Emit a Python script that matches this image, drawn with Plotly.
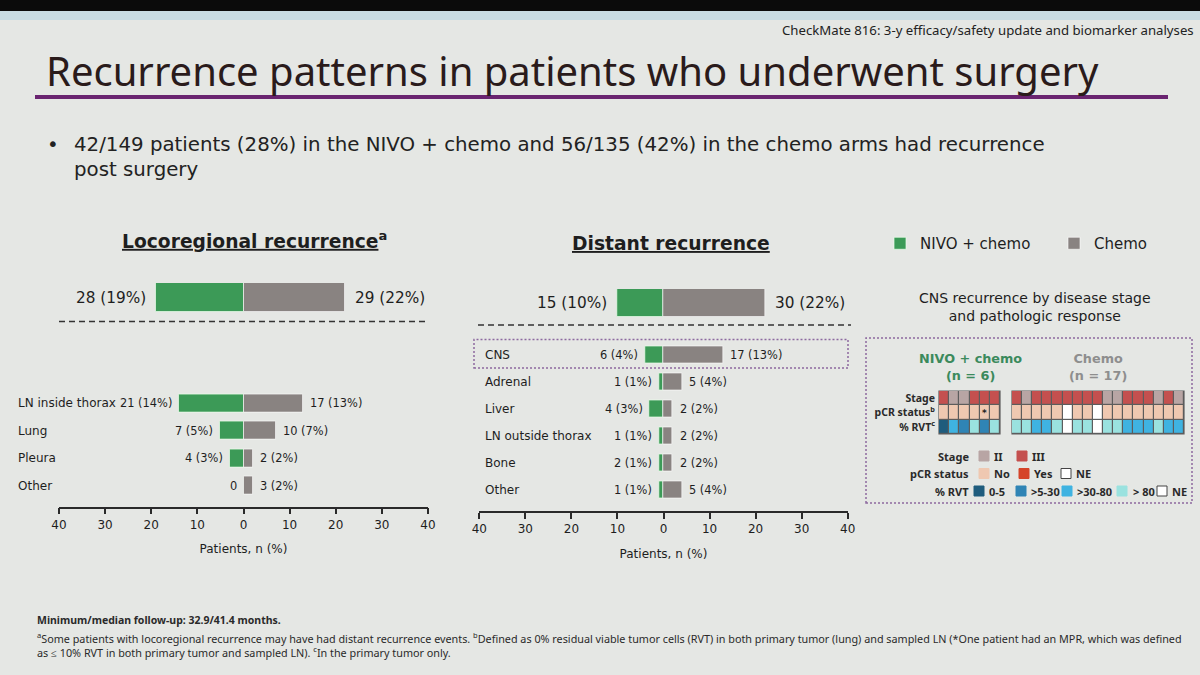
import plotly.graph_objects as go

W, H = 1200, 675


def fx(p):
    return p / W


def fy(p):
    return 1 - p / H


BG = "#e5e7e4"
GREEN = "#3c9a57"
GREY = "#898381"
TXT = "#1e1e1e"
PURPLE = "#8d6a9f"
FONT = "DejaVu Sans"
FONT2 = "Noto Sans"

# ---------------- data ----------------
loco_total_cat = ["Locoregional"]
loco_total_nivo_n = [28]
loco_total_nivo_pct = [19]
loco_total_chemo_n = [29]
loco_total_chemo_pct = [22]

loco_sites = ["LN inside thorax", "Lung", "Pleura", "Other"]
loco_nivo_n = [21, 7, 4, 0]
loco_nivo_pct = [14, 5, 3, 0]
loco_chemo_n = [17, 10, 2, 3]
loco_chemo_pct = [13, 7, 2, 2]

dist_total_cat = ["Distant"]
dist_total_nivo_n = [15]
dist_total_nivo_pct = [10]
dist_total_chemo_n = [30]
dist_total_chemo_pct = [22]

dist_sites = ["CNS", "Adrenal", "Liver", "LN outside thorax", "Bone", "Other"]
dist_nivo_n = [6, 1, 4, 1, 2, 1]
dist_nivo_pct = [4, 1, 3, 1, 1, 1]
dist_chemo_n = [17, 5, 2, 2, 2, 5]
dist_chemo_pct = [13, 4, 2, 2, 2, 4]

axis_ticks = [-40, -30, -20, -10, 0, 10, 20, 30, 40]
axis_ticktext = ["40", "30", "20", "10", "0", "10", "20", "30", "40"]

# CNS recurrence grid
grid_rows = ["Stage", "pCR", "RVT"]
grid_row_labels = ["<b>Stage</b>", "<b>pCR status<sup>b</sup></b>", "<b>% RVT<sup>c</sup></b>"]
nivo_stage = ["III", "II", "II", "III", "III", "III"]
nivo_pcr = ["No", "No", "No", "No", "No", "No"]
nivo_rvt = ["0-5", ">30-80", ">5-30", ">80", ">5-30", ">80"]
nivo_mpr_col = [4]
chemo_stage = ["III", "II", "III", "III", "III", "III", "III", "III", "III",
               "II", "II", "III", "III", "III", "II", "III", "II"]
chemo_pcr = ["No", "No", "No", "No", "No", "NE", "No", "No", "NE",
             "No", "No", "No", "No", "No", "No", "No", "No"]
chemo_rvt = [">80", ">80", ">30-80", ">30-80", ">80", "NE", ">80", ">80", "NE",
             ">80", ">80", ">30-80", ">30-80", ">30-80", ">80", ">30-80", ">30-80"]

stage_colors = {"II": "#b8a5a4", "III": "#c4504f"}
pcr_colors = {"No": "#efc8b1", "Yes": "#d5452a", "NE": "#ffffff"}
rvt_colors = {"0-5": "#1f5c7d", ">5-30": "#2f84b5", ">30-80": "#3fb3e1", ">80": "#9ae2df", "NE": "#ffffff"}

# ---------------- figure ----------------
fig = go.Figure()


def add_bars(xa, ya, cats, nivo_pct, chemo_pct, show, width):
    fig.add_trace(go.Bar(
        y=cats, x=[-v for v in nivo_pct], orientation="h", width=width,
        marker=dict(color=GREEN, line=dict(color="rgba(235,255,235,0.7)", width=1)),
        name="NIVO + chemo", legendgroup="nivo", showlegend=show,
        xaxis=xa, yaxis=ya, hoverinfo="skip"))
    fig.add_trace(go.Bar(
        y=cats, x=list(chemo_pct), orientation="h", width=width,
        marker=dict(color=GREY, line=dict(color="rgba(255,255,255,0.6)", width=1)),
        name="Chemo", legendgroup="chemo", showlegend=show,
        xaxis=xa, yaxis=ya, hoverinfo="skip"))


add_bars("x", "y", loco_total_cat, loco_total_nivo_pct, loco_total_chemo_pct, True, 1.0)
add_bars("x2", "y2", loco_sites, loco_nivo_pct, loco_chemo_pct, False, 0.64)
add_bars("x3", "y3", dist_total_cat, dist_total_nivo_pct, dist_total_chemo_pct, False, 1.0)
add_bars("x4", "y4", dist_sites, dist_nivo_pct, dist_chemo_pct, False, 0.64)

# heatmap colour codes
code_colors = [
    ("NE", "#ffffff"),
    ("stage:II", stage_colors["II"]),
    ("stage:III", stage_colors["III"]),
    ("pcr:No", pcr_colors["No"]),
    ("pcr:Yes", pcr_colors["Yes"]),
    ("rvt:0-5", rvt_colors["0-5"]),
    ("rvt:>5-30", rvt_colors[">5-30"]),
    ("rvt:>30-80", rvt_colors[">30-80"]),
    ("rvt:>80", rvt_colors[">80"]),
]
code_of = {k: i for i, (k, _) in enumerate(code_colors)}
K = len(code_colors)
cscale = []
for i, (_, c) in enumerate(code_colors):
    cscale.append([i / K, c])
    cscale.append([(i + 1) / K, c])


def codes(prefix, vals):
    # code i is centred in its band [i, i+1] of the 0..K colour range
    return [(code_of["NE"] if v == "NE" else code_of[prefix + ":" + v]) + 0.5 for v in vals]


def add_grid(xa, ya, stage, pcr, rvt):
    z = [codes("stage", stage), codes("pcr", pcr), codes("rvt", rvt)]
    fig.add_trace(go.Heatmap(
        z=z, x=list(range(len(stage))), y=grid_rows, colorscale=cscale,
        zmin=0, zmax=K, showscale=False, xgap=1.2, ygap=1.2,
        xaxis=xa, yaxis=ya, hoverinfo="skip"))


add_grid("x5", "y5", nivo_stage, nivo_pcr, nivo_rvt)
add_grid("x6", "y6", chemo_stage, chemo_pcr, chemo_rvt)

# ---------------- axes ----------------
hidden = dict(visible=False, showgrid=False, zeroline=False, fixedrange=True)
tick_axis = dict(
    range=[-40, 40], tickvals=axis_ticks, ticktext=axis_ticktext,
    showline=True, linecolor="#2a2a2a", linewidth=1.5, ticks="outside", ticklen=6,
    tickcolor="#2a2a2a", tickwidth=1.5, showgrid=False, zeroline=False,
    tickfont=dict(family=FONT, size=12, color=TXT),
    title=dict(text="Patients, n (%)", font=dict(family=FONT, size=12, color=TXT), standoff=14),
)

lx0, lx1 = fx(59), fx(428)
mx0, mx1 = fx(479.3), fx(847.7)

fig.update_layout(
    xaxis=dict(domain=[lx0, lx1], range=[-40, 40], anchor="y", **hidden),
    yaxis=dict(domain=[fy(312), fy(283)], range=[-0.5, 0.5], anchor="x", type="category", **hidden),
    xaxis2=dict(domain=[lx0, lx1], anchor="y2", **tick_axis),
    yaxis2=dict(domain=[fy(506.5), fy(389.6)], range=[3.75, -0.5], anchor="x2", type="category",
                categoryorder="array", categoryarray=loco_sites, **hidden),
    xaxis3=dict(domain=[mx0, mx1], range=[-40, 40], anchor="y3", **hidden),
    yaxis3=dict(domain=[fy(317), fy(289)], range=[-0.5, 0.5], anchor="x3", type="category", **hidden),
    xaxis4=dict(domain=[mx0, mx1], anchor="y4", **tick_axis),
    yaxis4=dict(domain=[fy(511), fy(341.5)], range=[5.78, -0.5], anchor="x4", type="category",
                categoryorder="array", categoryarray=dist_sites, **hidden),
    xaxis5=dict(domain=[fx(939), fx(1000)], range=[-0.5, len(nivo_stage) - 0.5], anchor="y5", **hidden),
    yaxis5=dict(domain=[fy(434), fy(391)], range=[2.5, -0.5], anchor="x5", type="category",
                categoryorder="array", categoryarray=grid_rows,
                tickvals=grid_rows, ticktext=grid_row_labels, showgrid=False, zeroline=False,
                showline=False, ticks="", ticklabelstandoff=3,
                tickfont=dict(family=FONT2, size=10.5, color="#2a2a2a")),
    xaxis6=dict(domain=[fx(1012), fx(1184)], range=[-0.5, len(chemo_stage) - 0.5], anchor="y6", **hidden),
    yaxis6=dict(domain=[fy(434), fy(391)], range=[2.5, -0.5], anchor="x6", type="category",
                categoryorder="array", categoryarray=grid_rows, **hidden),
)

# ---------------- shapes ----------------
shapes = [
    # photo top band
    dict(type="rect", xref="paper", yref="paper", x0=0, x1=1, y0=fy(11), y1=1,
         fillcolor="#0b0b0b", line=dict(width=0), layer="below"),
    dict(type="rect", xref="paper", yref="paper", x0=0, x1=1, y0=fy(20), y1=fy(11),
         fillcolor="#c8dce3", line=dict(width=0), layer="below"),
    # title rule
    dict(type="line", xref="paper", yref="paper", x0=fx(35), x1=fx(1168), y0=fy(97), y1=fy(97),
         line=dict(color="#6a2470", width=4)),
    # dashed separators
    dict(type="line", xref="paper", yref="paper", x0=fx(59), x1=fx(428), y0=fy(321.5), y1=fy(321.5),
         line=dict(color="#333333", width=1.3, dash="6px,4px")),
    dict(type="line", xref="paper", yref="paper", x0=fx(478), x1=fx(851), y0=fy(325), y1=fy(325),
         line=dict(color="#333333", width=1.3, dash="6px,4px")),
    # CNS highlight box
    dict(type="rect", xref="paper", yref="paper", x0=fx(474), x1=fx(848), y0=fy(368), y1=fy(339.5),
         line=dict(color=PURPLE, width=1.5, dash="2px,2px")),
    # right panel box
    dict(type="rect", xref="paper", yref="paper", x0=fx(866), x1=fx(1192), y0=fy(503), y1=fy(338),
         line=dict(color=PURPLE, width=1.5, dash="2px,2px")),
    # heatmap cell borders
    dict(type="rect", xref="x5 domain", yref="y5 domain", x0=0, x1=1, y0=0, y1=1,
         fillcolor="#5c5c5c", line=dict(color="#5c5c5c", width=1.2), layer="below"),
    dict(type="rect", xref="x6 domain", yref="y6 domain", x0=0, x1=1, y0=0, y1=1,
         fillcolor="#5c5c5c", line=dict(color="#5c5c5c", width=1.2), layer="below"),
]

# CNS grid key
key_rows = [
    ("Stage", 456, [("II", stage_colors["II"], 979, 992), ("III", stage_colors["III"], 1017, 1030)]),
    ("pCR status", 473.5, [("No", pcr_colors["No"], 979, 992), ("Yes", pcr_colors["Yes"], 1019, 1032),
                           ("NE", pcr_colors["NE"], 1061, 1074)]),
    ("% RVT", 491, [("0-5", rvt_colors["0-5"], 974, 987), (">5-30", rvt_colors[">5-30"], 1016, 1029),
                    (">30-80", rvt_colors[">30-80"], 1062, 1075), ("> 80", rvt_colors[">80"], 1117, 1131),
                    ("NE", rvt_colors["NE"], 1157, 1170)]),
]

annotations = []


def ann(text, x, y, size, color=TXT, xanchor="left", family=FONT, xref="paper", yref="paper",
        xshift=0, yanchor="middle", align="left"):
    annotations.append(dict(text=text, x=x, y=y, xref=xref, yref=yref, showarrow=False,
                            xanchor=xanchor, yanchor=yanchor, xshift=xshift, align=align,
                            font=dict(family=family, size=size, color=color)))


for label, py, items in key_rows:
    ann("<b>" + label + "</b>", fx(971), fy(py), 11, "#2a2a2a", xanchor="right", family=FONT2)
    for txt, col, sx, tx in items:
        edge = "#444444" if col == "#ffffff" else col
        shapes.append(dict(type="rect", xref="paper", yref="paper", x0=fx(sx), x1=fx(sx + 10),
                           y0=fy(py + 5), y1=fy(py - 5), fillcolor=col,
                           line=dict(color=edge, width=1)))
        ann("<b>" + txt + "</b>", fx(tx), fy(py), 11, "#2a2a2a", family=FONT2)

fig.update_layout(shapes=shapes)

# ---------------- text ----------------
ann("CheckMate 816: 3-y efficacy/safety update and biomarker analyses", fx(1196), fy(30), 13.2,
    "#222222", xanchor="right", family=FONT2)
ann("Recurrence patterns in patients who underwent surgery", fx(44), fy(71), 40, "#2a1b1b", family=FONT2)
ann("•", fx(45), fy(145), 19.8, "#222222", family=FONT)
ann("42/149 patients (28%) in the NIVO + chemo and 56/135 (42%) in the chemo arms had recurrence",
    fx(72), fy(145), 19.8, "#222222", family=FONT)
ann("post surgery", fx(72), fy(170), 19.8, "#222222", family=FONT)

ann("<b><u>Locoregional recurrence</u><sup>a</sup></b>", fx(254), fy(240), 18.7, TXT, xanchor="center")
ann("<b><u>Distant recurrence</u></b>", fx(671), fy(243), 18.7, TXT, xanchor="center")

ann("CNS recurrence by disease stage<br>and pathologic response", fx(1035), fy(306.5), 14, TXT,
    xanchor="center", align="center")
ann("<b>NIVO + chemo</b><br><b>(n = 6)</b>", fx(970), fy(366.5), 12.8, "#3b8a5c", xanchor="center",
    align="center")
ann("<b>Chemo</b><br><b>(n = 17)</b>", fx(1098), fy(367.5), 12.8, "#8e8e8e", xanchor="center",
    align="center")
for c in nivo_mpr_col:
    ann("<b>*</b>", c, "pCR", 9, "#222222", xanchor="center", xref="x5", yref="y5")


def label_text(n, p):
    return "0" if n == 0 else f"{n} ({p}%)"


def value_labels(xa, ya, cats, nivo_n, nivo_pct, chemo_n, chemo_pct, size, gap):
    for c, n, p in zip(cats, nivo_n, nivo_pct):
        ann(label_text(n, p), -p, c, size, TXT, xanchor="right", xref=xa, yref=ya, xshift=-gap)
    for c, n, p in zip(cats, chemo_n, chemo_pct):
        ann(label_text(n, p), p, c, size, TXT, xanchor="left", xref=xa, yref=ya, xshift=gap)


value_labels("x", "y", loco_total_cat, loco_total_nivo_n, loco_total_nivo_pct,
             loco_total_chemo_n, loco_total_chemo_pct, 15.3, 8)
value_labels("x2", "y2", loco_sites, loco_nivo_n, loco_nivo_pct, loco_chemo_n, loco_chemo_pct, 11.4, 5)
value_labels("x3", "y3", dist_total_cat, dist_total_nivo_n, dist_total_nivo_pct,
             dist_total_chemo_n, dist_total_chemo_pct, 15.3, 8)
value_labels("x4", "y4", dist_sites, dist_nivo_n, dist_nivo_pct, dist_chemo_n, dist_chemo_pct, 11.4, 5)

for s in loco_sites:
    ann(s, fx(16), s, 12, TXT, yref="y2")
for s in dist_sites:
    ann(s, fx(483), s, 12, TXT, yref="y4")

ann("<b>Minimum/median follow-up: 32.9/41.4 months.</b>", fx(35), fy(620), 10.5, "#2a2a2a", family=FONT2)
ann("<sup>a</sup>Some patients with locoregional recurrence may have had distant recurrence events. "
    "<sup>b</sup>Defined as 0% residual viable tumor cells (RVT) in both primary tumor (lung) and sampled LN "
    "(*One patient had an MPR, which was defined<br>as ≤ 10% RVT in both primary tumor and sampled LN). "
    "<sup>c</sup>In the primary tumor only.",
    fx(35), fy(644.5), 10.8, "#2a2a2a", family=FONT2)

fig.update_layout(
    annotations=annotations,
    width=W, height=H, margin=dict(l=0, r=0, t=0, b=0, pad=0, autoexpand=False),
    paper_bgcolor=BG, plot_bgcolor="rgba(0,0,0,0)",
    barmode="relative", bargap=0,
    font=dict(family=FONT, color=TXT),
    legend=dict(orientation="h", x=fx(880), y=fy(227), xanchor="left", yanchor="top",
                font=dict(family=FONT, size=15, color=TXT), bgcolor="rgba(0,0,0,0)",
                entrywidth=129, entrywidthmode="pixels", traceorder="normal"),
    showlegend=True,
)

fig.write_html("out.html")
